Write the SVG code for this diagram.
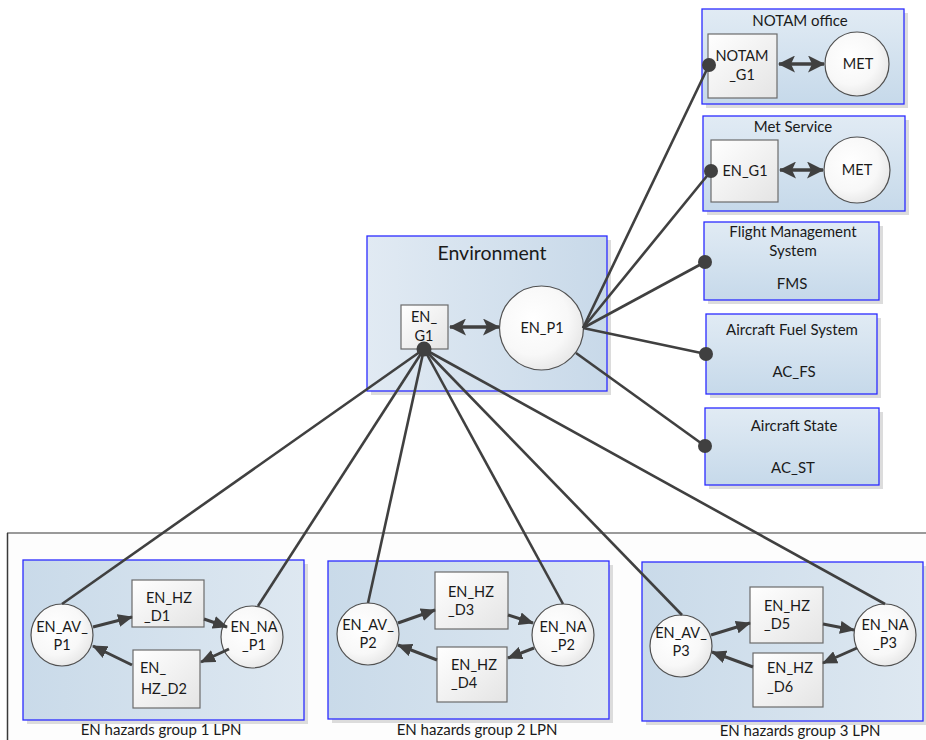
<svg xmlns="http://www.w3.org/2000/svg" width="926" height="740" viewBox="0 0 926 740">
<defs>
<linearGradient id="gTop" x1="0" y1="0" x2="0" y2="1"><stop offset="0" stop-color="#e1ebf4"/><stop offset="1" stop-color="#c6d9ea"/></linearGradient>
<linearGradient id="gEnv" x1="0" y1="0" x2="1" y2="0"><stop offset="0" stop-color="#e1eaf3"/><stop offset="1" stop-color="#c8d9e9"/></linearGradient>
<linearGradient id="gGrp" x1="0" y1="0" x2="1" y2="0"><stop offset="0" stop-color="#c9dae9"/><stop offset="1" stop-color="#dee8f1"/></linearGradient>
<linearGradient id="gNode" x1="0" y1="0" x2="1" y2="1"><stop offset="0" stop-color="#ffffff"/><stop offset="1" stop-color="#e4e4e4"/></linearGradient>
<radialGradient id="gCirc" cx="0.4" cy="0.4" r="0.7"><stop offset="0" stop-color="#ffffff"/><stop offset="0.6" stop-color="#f8f8f8"/><stop offset="1" stop-color="#e2e2e2"/></radialGradient>
<marker id="arr" markerUnits="userSpaceOnUse" markerWidth="15" markerHeight="13" refX="14" refY="6.5" orient="auto"><path d="M0,0 L15,6.5 L0,13 z" fill="#404040"/></marker>
<marker id="arrD" markerUnits="userSpaceOnUse" markerWidth="17" markerHeight="17" refX="16" refY="8.5" orient="auto-start-reverse"><path d="M0,0 L17,8.5 L0,17 L4,8.5 z" fill="#404040"/></marker>
</defs>
<style>
text{font-family:Lato,"Liberation Sans",sans-serif;fill:#1a1a1a;font-size:14.5px}
.c{text-anchor:middle}
.title{font-size:15px;text-anchor:middle}
.big{font-size:19.5px;text-anchor:middle}
.blue{stroke:#2b2bff;stroke-width:1.3}
.shadow{fill:#dcdcdc}
.node{fill:url(#gNode);stroke:#6b6b6b;stroke-width:1.2}
.circ{fill:url(#gCirc);stroke:#505050;stroke-width:1.2}
.line{stroke:#404040;stroke-width:2.6;fill:none}
.arrow{stroke:#404040;stroke-width:3;fill:none;marker-end:url(#arr)}
.darr{stroke:#404040;stroke-width:3.5;fill:none;marker-start:url(#arrD);marker-end:url(#arrD)}
.dot{fill:#404040}
</style>

<!-- outer frame -->
<g id="frame">
<rect x="7" y="533" width="925" height="215" fill="#fdfdfd"/>
<line x1="7" y1="533" x2="926" y2="533" stroke="#9a9a9a" stroke-width="2"/>
<line x1="7.5" y1="533" x2="7.5" y2="740" stroke="#3a3a3a" stroke-width="1.5"/>
</g>

<!-- top right boxes -->
<g id="notam_office">
<rect class="shadow" x="706" y="13" width="202" height="95"/>
<rect class="blue" x="702" y="9" width="202" height="95" fill="url(#gTop)"/>
<text class="title" x="800" y="26">NOTAM office</text>
</g>
<g id="notam_g1">
<rect class="node" x="708" y="34" width="69" height="64"/>
<text class="c" x="742" y="61">NOTAM</text>
<text class="c" x="742" y="80">_G1</text>
</g>
<g id="notam_met">
<circle class="circ" cx="857" cy="64" r="32"/>
<text class="c" x="858" y="69">MET</text>
</g>

<g id="met_service">
<rect class="shadow" x="707" y="120" width="202" height="95"/>
<rect class="blue" x="703" y="116" width="202" height="95" fill="url(#gTop)"/>
<text class="title" x="793" y="132">Met Service</text>
</g>
<g id="met_en_g1">
<rect class="node" x="711" y="140" width="67" height="62"/>
<text class="c" x="745" y="176">EN_G1</text>
</g>
<g id="met_met">
<circle class="circ" cx="857" cy="170" r="33"/>
<text class="c" x="857" y="175">MET</text>
</g>

<g id="fms">
<rect class="shadow" x="708" y="226" width="175" height="78"/>
<rect class="blue" x="704" y="222" width="175" height="78" fill="url(#gTop)"/>
<text class="title" x="793" y="237">Flight Management</text>
<text class="title" x="793" y="256">System</text>
<text class="title" x="792" y="289">FMS</text>
</g>
<g id="ac_fs">
<rect class="shadow" x="710" y="318" width="171" height="80"/>
<rect class="blue" x="706" y="314" width="171" height="80" fill="url(#gTop)"/>
<text class="title" x="792" y="335">Aircraft Fuel System</text>
<text class="title" x="794" y="377">AC_FS</text>
</g>
<g id="ac_st">
<rect class="shadow" x="709" y="412" width="174" height="77"/>
<rect class="blue" x="705" y="408" width="174" height="77" fill="url(#gTop)"/>
<text class="title" x="794" y="431">Aircraft State</text>
<text class="title" x="793" y="473">AC_ST</text>
</g>

<!-- Environment -->
<g id="environment">
<rect class="shadow" x="371" y="240" width="240" height="155"/>
<rect class="blue" x="367" y="236" width="240" height="155" fill="url(#gEnv)"/>
<text class="big" x="492" y="260">Environment</text>
</g>
<g id="en_g1">
<rect class="node" x="401" y="305" width="47" height="44"/>
<text class="c" x="424" y="322">EN_</text>
<text class="c" x="424" y="341">G1</text>
</g>
<g id="en_p1">
<circle class="circ" cx="541.5" cy="328" r="42"/>
<text class="c" x="542" y="333">EN_P1</text>
</g>

<!-- groups -->
<g id="group1">
<rect class="shadow" x="27" y="564" width="281" height="160"/>
<rect class="blue" x="23" y="560" width="281" height="160" fill="url(#gGrp)"/>
<text class="title" x="161" y="735">EN hazards group 1 LPN</text>
</g>
<g id="group2">
<rect class="shadow" x="332" y="565" width="281" height="158"/>
<rect class="blue" x="328" y="561" width="281" height="158" fill="url(#gGrp)"/>
<text class="title" x="477" y="735">EN hazards group 2 LPN</text>
</g>
<g id="group3">
<rect class="shadow" x="646" y="566" width="281" height="159"/>
<rect class="blue" x="642" y="562" width="281" height="159" fill="url(#gGrp)"/>
<text class="title" x="800" y="736">EN hazards group 3 LPN</text>
</g>

<!-- group 1 nodes -->
<g id="en_av_p1">
<circle class="circ" cx="62" cy="635" r="31"/>
<text class="c" x="62" y="632">EN_AV_</text>
<text class="c" x="62" y="650">P1</text>
</g>
<g id="en_hz_d1">
<rect class="node" x="132" y="580" width="72" height="47"/>
<text x="146" y="603">EN_HZ</text>
<text x="144" y="621">_D1</text>
</g>
<g id="en_na_p1">
<circle class="circ" cx="252" cy="637" r="31"/>
<text class="c" x="254" y="632">EN_NA</text>
<text class="c" x="254" y="650">_P1</text>
</g>
<g id="en_hz_d2">
<rect class="node" x="133" y="650" width="67" height="58"/>
<text x="140" y="673">EN_</text>
<text x="141" y="694">HZ_D2</text>
</g>

<!-- group 2 nodes -->
<g id="en_av_p2">
<circle class="circ" cx="368" cy="634" r="31"/>
<text class="c" x="368" y="630">EN_AV_</text>
<text class="c" x="368" y="648">P2</text>
</g>
<g id="en_hz_d3">
<rect class="node" x="435" y="572" width="73" height="57"/>
<text x="448" y="597">EN_HZ</text>
<text x="448" y="615">_D3</text>
</g>
<g id="en_na_p2">
<circle class="circ" cx="563" cy="635" r="31"/>
<text class="c" x="563" y="632">EN_NA</text>
<text class="c" x="563" y="650">_P2</text>
</g>
<g id="en_hz_d4">
<rect class="node" x="437" y="647" width="70" height="55"/>
<text x="451" y="670">EN_HZ</text>
<text x="451" y="688">_D4</text>
</g>

<!-- group 3 nodes -->
<g id="en_av_p3">
<circle class="circ" cx="681" cy="646" r="31"/>
<text class="c" x="681" y="638">EN_AV_</text>
<text class="c" x="681" y="656">P3</text>
</g>
<g id="en_hz_d5">
<rect class="node" x="750" y="587" width="73" height="56"/>
<text x="764" y="611">EN_HZ</text>
<text x="764" y="629">_D5</text>
</g>
<g id="en_na_p3">
<circle class="circ" cx="885" cy="635" r="31"/>
<text class="c" x="885" y="630">EN_NA</text>
<text class="c" x="885" y="648">_P3</text>
</g>
<g id="en_hz_d6">
<rect class="node" x="753" y="653" width="70" height="54"/>
<text x="767" y="673">EN_HZ</text>
<text x="767" y="692">_D6</text>
</g>

<!-- connectors -->
<g id="connectors">
<line class="darr" x1="779" y1="64" x2="824" y2="64"/>
<line class="darr" x1="780" y1="170" x2="823" y2="170"/>
<line class="darr" x1="450" y1="327" x2="499" y2="327"/>

<line class="line" x1="583" y1="328" x2="709" y2="65"/>
<line class="line" x1="583" y1="328" x2="711" y2="171"/>
<line class="line" x1="583" y1="328" x2="705" y2="262"/>
<line class="line" x1="583" y1="328" x2="706" y2="354"/>
<line class="line" x1="576" y1="353" x2="705" y2="446"/>
<circle class="dot" cx="709" cy="65" r="7"/>
<circle class="dot" cx="711" cy="171" r="7"/>
<circle class="dot" cx="705" cy="262" r="7"/>
<circle class="dot" cx="706" cy="354" r="7"/>
<circle class="dot" cx="705" cy="446" r="7"/>

<line class="line" x1="424" y1="349" x2="62" y2="604"/>
<line class="line" x1="424" y1="349" x2="258" y2="606"/>
<line class="line" x1="424" y1="349" x2="368" y2="603"/>
<line class="line" x1="424" y1="349" x2="563" y2="604"/>
<line class="line" x1="424" y1="349" x2="682" y2="615"/>
<line class="line" x1="424" y1="349" x2="885" y2="604"/>
<circle class="dot" cx="424" cy="349" r="7.5"/>

<line class="arrow" x1="93" y1="627" x2="132" y2="617"/>
<line class="arrow" x1="204" y1="619" x2="227" y2="627"/>
<line class="arrow" x1="229" y1="649" x2="201" y2="662"/>
<line class="arrow" x1="132" y1="665" x2="93" y2="646"/>

<line class="arrow" x1="398" y1="623" x2="435" y2="610"/>
<line class="arrow" x1="508" y1="615" x2="533" y2="623"/>
<line class="arrow" x1="534" y1="648" x2="508" y2="658"/>
<line class="arrow" x1="437" y1="660" x2="398" y2="645"/>

<line class="arrow" x1="711" y1="635" x2="750" y2="623"/>
<line class="arrow" x1="823" y1="624" x2="854" y2="630"/>
<line class="arrow" x1="857" y1="648" x2="823" y2="663"/>
<line class="arrow" x1="753" y1="667" x2="712" y2="652"/>
</g>
</svg>
